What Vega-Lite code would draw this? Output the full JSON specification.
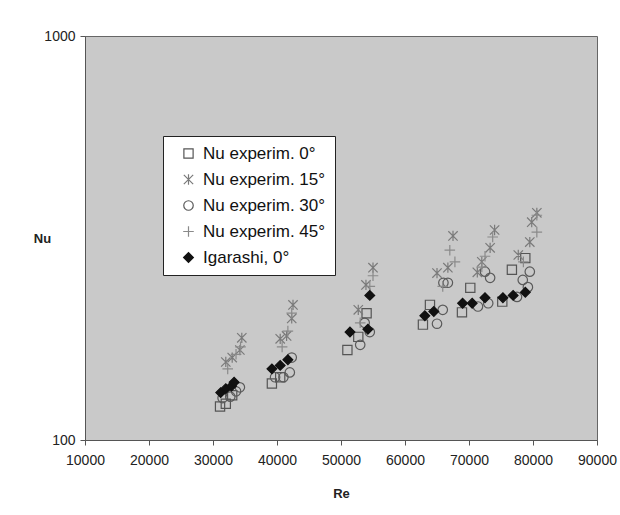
{
  "$schema": "https://vega.github.io/schema/vega-lite/v6.json",
  "autosize": {"type": "none"},
  "padding": {"left": 85, "top": 36, "right": 23, "bottom": 75},
  "width": 512,
  "height": 404,
  "background": "white",
  "config": {
    "font": "Liberation Sans",
    "view": {"fill": "#c9c9c9", "stroke": "#666", "strokeWidth": 1}
  },
  "data": {
    "values": [
      {"s": "Nu experim. 0°", "Re": 31100, "Nu": 121},
      {"s": "Nu experim. 0°", "Re": 32000, "Nu": 123},
      {"s": "Nu experim. 0°", "Re": 33000, "Nu": 129},
      {"s": "Nu experim. 0°", "Re": 39200, "Nu": 138},
      {"s": "Nu experim. 0°", "Re": 40500, "Nu": 143},
      {"s": "Nu experim. 0°", "Re": 51000, "Nu": 167},
      {"s": "Nu experim. 0°", "Re": 52700, "Nu": 180},
      {"s": "Nu experim. 0°", "Re": 54000, "Nu": 206},
      {"s": "Nu experim. 0°", "Re": 62800, "Nu": 193},
      {"s": "Nu experim. 0°", "Re": 63900, "Nu": 216},
      {"s": "Nu experim. 0°", "Re": 68900, "Nu": 207},
      {"s": "Nu experim. 0°", "Re": 70200, "Nu": 238},
      {"s": "Nu experim. 0°", "Re": 75200, "Nu": 220},
      {"s": "Nu experim. 0°", "Re": 76700, "Nu": 264},
      {"s": "Nu experim. 0°", "Re": 78800, "Nu": 282},

      {"s": "Nu experim. 15°", "Re": 32000, "Nu": 156},
      {"s": "Nu experim. 15°", "Re": 33000, "Nu": 160},
      {"s": "Nu experim. 15°", "Re": 34200, "Nu": 167},
      {"s": "Nu experim. 15°", "Re": 34500, "Nu": 179},
      {"s": "Nu experim. 15°", "Re": 40500, "Nu": 178},
      {"s": "Nu experim. 15°", "Re": 41500, "Nu": 181},
      {"s": "Nu experim. 15°", "Re": 42300, "Nu": 200},
      {"s": "Nu experim. 15°", "Re": 42500, "Nu": 216},
      {"s": "Nu experim. 15°", "Re": 52700, "Nu": 210},
      {"s": "Nu experim. 15°", "Re": 53900, "Nu": 242},
      {"s": "Nu experim. 15°", "Re": 55000, "Nu": 267},
      {"s": "Nu experim. 15°", "Re": 65000, "Nu": 259},
      {"s": "Nu experim. 15°", "Re": 66700, "Nu": 267},
      {"s": "Nu experim. 15°", "Re": 67500, "Nu": 320},
      {"s": "Nu experim. 15°", "Re": 71300, "Nu": 260},
      {"s": "Nu experim. 15°", "Re": 72000, "Nu": 276},
      {"s": "Nu experim. 15°", "Re": 73300, "Nu": 299},
      {"s": "Nu experim. 15°", "Re": 74000, "Nu": 331},
      {"s": "Nu experim. 15°", "Re": 77700, "Nu": 287},
      {"s": "Nu experim. 15°", "Re": 79500, "Nu": 309},
      {"s": "Nu experim. 15°", "Re": 79800, "Nu": 346},
      {"s": "Nu experim. 15°", "Re": 80600, "Nu": 365},

      {"s": "Nu experim. 30°", "Re": 31500, "Nu": 127},
      {"s": "Nu experim. 30°", "Re": 32700, "Nu": 128},
      {"s": "Nu experim. 30°", "Re": 33600, "Nu": 132},
      {"s": "Nu experim. 30°", "Re": 34200, "Nu": 135},
      {"s": "Nu experim. 30°", "Re": 39700, "Nu": 143},
      {"s": "Nu experim. 30°", "Re": 41000, "Nu": 143},
      {"s": "Nu experim. 30°", "Re": 42000, "Nu": 147},
      {"s": "Nu experim. 30°", "Re": 42300, "Nu": 160},
      {"s": "Nu experim. 30°", "Re": 53000, "Nu": 172},
      {"s": "Nu experim. 30°", "Re": 53700, "Nu": 195},
      {"s": "Nu experim. 30°", "Re": 54500, "Nu": 185},
      {"s": "Nu experim. 30°", "Re": 65000, "Nu": 194},
      {"s": "Nu experim. 30°", "Re": 65900, "Nu": 210},
      {"s": "Nu experim. 30°", "Re": 66700, "Nu": 245},
      {"s": "Nu experim. 30°", "Re": 66000, "Nu": 245},
      {"s": "Nu experim. 30°", "Re": 71400, "Nu": 214},
      {"s": "Nu experim. 30°", "Re": 73000, "Nu": 218},
      {"s": "Nu experim. 30°", "Re": 73300, "Nu": 252},
      {"s": "Nu experim. 30°", "Re": 72500, "Nu": 261},
      {"s": "Nu experim. 30°", "Re": 77500, "Nu": 226},
      {"s": "Nu experim. 30°", "Re": 79200, "Nu": 239},
      {"s": "Nu experim. 30°", "Re": 78400, "Nu": 249},
      {"s": "Nu experim. 30°", "Re": 79500, "Nu": 261},

      {"s": "Nu experim. 45°", "Re": 32300, "Nu": 150},
      {"s": "Nu experim. 45°", "Re": 33600, "Nu": 163},
      {"s": "Nu experim. 45°", "Re": 34300, "Nu": 170},
      {"s": "Nu experim. 45°", "Re": 40800, "Nu": 170},
      {"s": "Nu experim. 45°", "Re": 41700, "Nu": 186},
      {"s": "Nu experim. 45°", "Re": 42300, "Nu": 206},
      {"s": "Nu experim. 45°", "Re": 53000, "Nu": 195},
      {"s": "Nu experim. 45°", "Re": 54500, "Nu": 240},
      {"s": "Nu experim. 45°", "Re": 55000, "Nu": 255},
      {"s": "Nu experim. 45°", "Re": 65900, "Nu": 240},
      {"s": "Nu experim. 45°", "Re": 67000, "Nu": 295},
      {"s": "Nu experim. 45°", "Re": 67800, "Nu": 276},
      {"s": "Nu experim. 45°", "Re": 72000, "Nu": 268},
      {"s": "Nu experim. 45°", "Re": 73700, "Nu": 318},
      {"s": "Nu experim. 45°", "Re": 72500, "Nu": 285},
      {"s": "Nu experim. 45°", "Re": 78500, "Nu": 276},
      {"s": "Nu experim. 45°", "Re": 80600, "Nu": 327},
      {"s": "Nu experim. 45°", "Re": 80600, "Nu": 360},

      {"s": "Igarashi, 0°", "Re": 31200, "Nu": 131},
      {"s": "Igarashi, 0°", "Re": 32000, "Nu": 134},
      {"s": "Igarashi, 0°", "Re": 32900, "Nu": 136},
      {"s": "Igarashi, 0°", "Re": 33300, "Nu": 139},
      {"s": "Igarashi, 0°", "Re": 39200, "Nu": 150},
      {"s": "Igarashi, 0°", "Re": 40500, "Nu": 153},
      {"s": "Igarashi, 0°", "Re": 41700, "Nu": 158},
      {"s": "Igarashi, 0°", "Re": 51400, "Nu": 185},
      {"s": "Igarashi, 0°", "Re": 54200, "Nu": 188},
      {"s": "Igarashi, 0°", "Re": 54500, "Nu": 228},
      {"s": "Igarashi, 0°", "Re": 63100, "Nu": 203},
      {"s": "Igarashi, 0°", "Re": 64500, "Nu": 208},
      {"s": "Igarashi, 0°", "Re": 69000, "Nu": 218},
      {"s": "Igarashi, 0°", "Re": 70500, "Nu": 218},
      {"s": "Igarashi, 0°", "Re": 72500, "Nu": 225},
      {"s": "Igarashi, 0°", "Re": 75300, "Nu": 225},
      {"s": "Igarashi, 0°", "Re": 76900, "Nu": 228},
      {"s": "Igarashi, 0°", "Re": 78800, "Nu": 232}
    ]
  },
  "mark": {"type": "point", "strokeWidth": 1.2, "opacity": 1},
  "encoding": {
    "x": {
      "field": "Re", "type": "quantitative",
      "scale": {"domain": [10000, 90000], "nice": false, "zero": false},
      "axis": {
        "title": "Re", "values": [10000, 20000, 30000, 40000, 50000, 60000, 70000, 80000, 90000],
        "format": "d", "grid": false, "domainColor": "#555", "tickColor": "#555", "tickSize": 5,
        "labelFontSize": 14, "labelColor": "#222", "labelPadding": 8,
        "titleFontSize": 13, "titleFontWeight": "bold", "titleColor": "#222", "titlePadding": 20,
        "labelFlush": false, "labelOverlap": false
      }
    },
    "y": {
      "field": "Nu", "type": "quantitative",
      "scale": {"type": "log", "domain": [100, 1000], "nice": false},
      "axis": {
        "title": "Nu", "values": [100, 1000], "format": "d", "grid": false,
        "domainColor": "#555", "tickColor": "#555", "tickSize": 5,
        "labelFontSize": 14, "labelColor": "#222", "labelPadding": 5,
        "titleFontSize": 13, "titleFontWeight": "bold", "titleColor": "#222",
        "titleAngle": 0, "titleX": -43, "titleY": 202, "titleAlign": "center", "titleBaseline": "middle"
      }
    },
    "shape": {
      "field": "s", "type": "nominal",
      "scale": {
        "domain": ["Nu experim. 0°", "Nu experim. 15°", "Nu experim. 30°", "Nu experim. 45°", "Igarashi, 0°"],
        "range": ["square", "M-1,-1L1,1M-1,1L1,-1M0,-1.1L0,1.1", "circle", "M-1.1,0L1.1,0M0,-1.1L0,1.1", "diamond"]
      },
      "legend": {
        "title": null, "orient": "none", "legendX": 78, "legendY": 100,
        "fillColor": "white", "strokeColor": "#222", "padding": 9,
        "labelFontSize": 17, "labelColor": "#111", "rowPadding": 8,
        "symbolStrokeWidth": 1.2, "symbolOffset": 8, "labelOffset": 6
      }
    },
    "size": {
      "field": "s", "type": "nominal",
      "scale": {
        "domain": ["Nu experim. 0°", "Nu experim. 15°", "Nu experim. 30°", "Nu experim. 45°", "Igarashi, 0°"],
        "range": [85, 95, 85, 100, 50]
      }
    },
    "stroke": {
      "field": "s", "type": "nominal",
      "scale": {
        "domain": ["Nu experim. 0°", "Nu experim. 15°", "Nu experim. 30°", "Nu experim. 45°", "Igarashi, 0°"],
        "range": ["#555555", "#7a7a7a", "#5a5a5a", "#8a8a8a", "#111111"]
      }
    },
    "fill": {
      "field": "s", "type": "nominal",
      "scale": {
        "domain": ["Nu experim. 0°", "Nu experim. 15°", "Nu experim. 30°", "Nu experim. 45°", "Igarashi, 0°"],
        "range": ["transparent", "transparent", "transparent", "transparent", "#111111"]
      }
    }
  }
}
